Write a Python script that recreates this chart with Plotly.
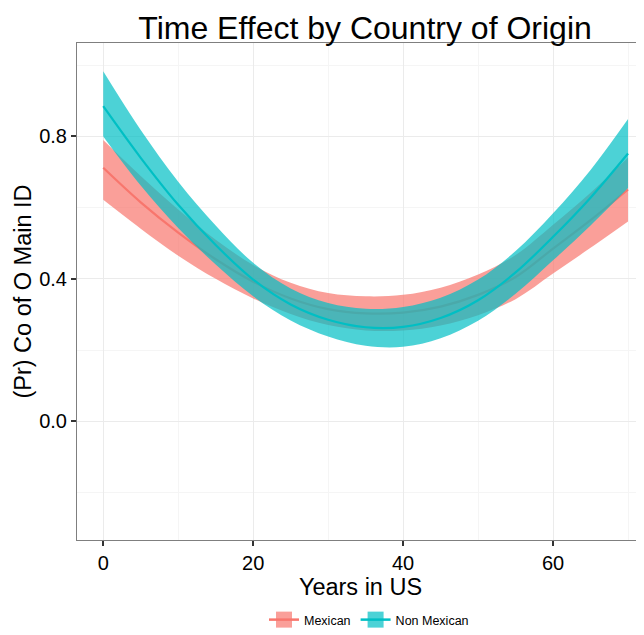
import plotly.graph_objects as go

# ---- data ----
years = [0, 5, 10, 15, 20, 25, 30, 35, 40, 45, 50, 55, 60, 65, 70]

mex_fit = [0.712, 0.615, 0.530, 0.455, 0.392, 0.345, 0.315, 0.303, 0.305, 0.322, 0.355, 0.405, 0.485, 0.565, 0.651]
mex_hi  = [0.790, 0.689, 0.595, 0.510, 0.439, 0.389, 0.360, 0.351, 0.355, 0.375, 0.412, 0.467, 0.552, 0.642, 0.741]
mex_lo  = [0.622, 0.541, 0.465, 0.400, 0.345, 0.301, 0.270, 0.255, 0.255, 0.269, 0.298, 0.343, 0.415, 0.487, 0.561]

non_fit = [0.885, 0.740, 0.608, 0.495, 0.398, 0.328, 0.285, 0.264, 0.265, 0.290, 0.340, 0.418, 0.518, 0.628, 0.752]
non_hi  = [0.983, 0.818, 0.673, 0.550, 0.445, 0.373, 0.332, 0.316, 0.321, 0.347, 0.398, 0.478, 0.584, 0.706, 0.849]
non_lo  = [0.800, 0.662, 0.543, 0.440, 0.351, 0.283, 0.238, 0.212, 0.209, 0.233, 0.282, 0.358, 0.452, 0.550, 0.655]

groups = ["Mexican", "Non Mexican"]
y_ticks = [-0.4, 0.0, 0.4, 0.8]
x_ticks = [0, 20, 40, 60]

series = [
    ("Mexican", mex_fit, mex_lo, mex_hi, "#F8766D", "rgba(248,118,109,0.7)"),
    ("Non Mexican", non_fit, non_lo, non_hi, "#00BFC4", "rgba(0,191,196,0.7)"),
]

FONT = "Liberation Sans, Arial, sans-serif"

fig = go.Figure()
for name, fit, lo, hi, col, fcol in series:
    fig.add_trace(go.Scatter(x=years, y=lo, mode="lines", line=dict(width=0, shape="spline"),
                             showlegend=False, hoverinfo="skip"))
    fig.add_trace(go.Scatter(x=years, y=hi, mode="lines", line=dict(width=0, shape="spline"),
                             fill="tonexty", fillcolor=fcol, showlegend=False, hoverinfo="skip"))
    fig.add_trace(go.Scatter(x=years, y=fit, mode="lines", line=dict(color=col, width=2.2, shape="spline"),
                             showlegend=False, name=name))

for name, fit, lo, hi, col, fcol in series:
    fig.add_trace(go.Scatter(x=[None], y=[None], mode="lines+markers", name=name,
                             line=dict(color=col, width=2.5),
                             marker=dict(symbol="square", size=22, color=fcol, line=dict(width=0))))

fig.update_layout(
    width=636, height=627,
    margin=dict(l=69, r=0, t=35, b=94),
    paper_bgcolor="white", plot_bgcolor="white",
    font=dict(family=FONT, color="black"),
    title=dict(text="Time Effect by Country of Origin", xref="paper", x=0.508, xanchor="center",
               yref="container", y=0.968, yanchor="middle", font=dict(size=32, color="black")),
    showlegend=True,
    legend=dict(orientation="h", x=0.515, xanchor="center", y=-0.162, yanchor="middle",
                traceorder="normal",
                font=dict(size=12.5, color="black"), itemwidth=30, tracegroupgap=0,
                bgcolor="rgba(0,0,0,0)"),
)

fig.update_xaxes(
    range=[-3.5, 72.13], tickvals=x_ticks, ticktext=[str(v) for v in x_ticks],
    automargin=False,
    showgrid=True, gridcolor="#EBEBEB", gridwidth=1,
    minor=dict(tickvals=[10, 30, 50, 70], showgrid=True, gridcolor="#F5F5F5", gridwidth=0.5, ticks=""),
    showline=True, linecolor="#7F7F7F", linewidth=1, mirror=True,
    ticks="outside", ticklen=5, tickwidth=1.5, tickcolor="#333333",
    tickfont=dict(size=20, color="black", family=FONT),
    zeroline=False,
    title=dict(text="Years in US", font=dict(size=23.5, color="black", family=FONT), standoff=2),
)
fig.update_yaxes(
    range=[-0.3336, 1.0625], tickvals=y_ticks, ticktext=["-0.4", "0.0", "0.4", "0.8"],
    automargin=False,
    showgrid=True, gridcolor="#EBEBEB", gridwidth=1,
    minor=dict(tickvals=[-0.2, 0.2, 0.6, 1.0], showgrid=True, gridcolor="#F5F5F5", gridwidth=0.5, ticks=""),
    showline=True, linecolor="#7F7F7F", linewidth=1, mirror=False,
    ticks="outside", ticklen=5, tickwidth=1.5, tickcolor="#333333",
    tickfont=dict(size=20, color="black", family=FONT),
    zeroline=False,
    title=dict(text="(Pr) Co of O Main ID", font=dict(size=23.5, color="black", family=FONT), standoff=0),
)

fig.write_html("out.html")
